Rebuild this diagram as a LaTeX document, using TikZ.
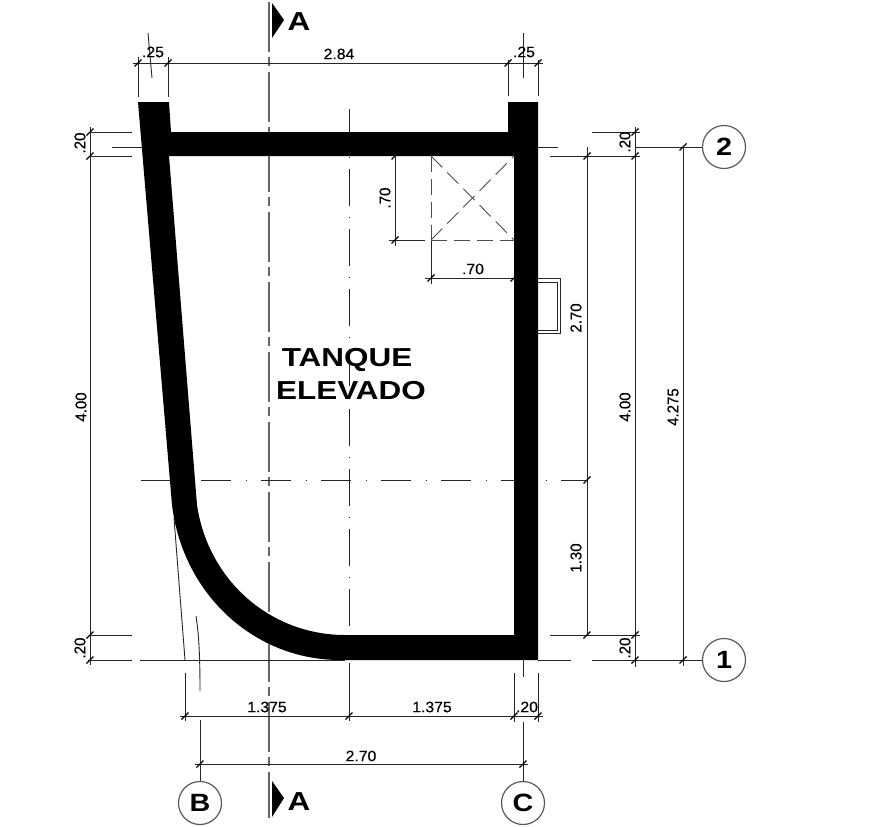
\documentclass[tikz,border=0pt]{standalone}
\usepackage{fontspec}
\setmainfont{Liberation Sans}
\newcommand{\bubtext}[1]{\scalebox{1.15}[1]{#1}}
\tikzset{
  dimline/.style={draw=black!85,line width=.9pt},
  tickmark/.style={draw=black,line width=1.2pt},
  axisline/.style={draw=black!60,line width=1.2pt,dash pattern=on 50pt off 5pt on 9pt off 6pt},
  gridline/.style={draw=black!85,line width=.9pt,dash pattern=on 37pt off 11pt on 1pt off 11pt},
  gridlineh/.style={draw=black!85,line width=.9pt,dash pattern=on 30pt off 15pt on 1pt off 14pt},
  openline/.style={draw=black!70,line width=.9pt,dash pattern=on 16pt off 7pt},
  dimtext/.style={font=\fontsize{15}{15}\selectfont\addfontfeature{FakeBold=0.5},xscale=1.05,inner sep=0pt},
  bigtext/.style={font=\fontsize{26}{26}\selectfont\bfseries,xscale=1.21,inner sep=0pt,text=black},
  bubble/.style={circle,draw=black!65,line width=1.2pt,minimum size=43pt,inner sep=0pt,
    font=\fontsize{25}{25}\selectfont\bfseries},
}
\begin{document}
\begin{tikzpicture}[x=1pt,y=-1pt]
  \useasboundingbox (0,0) rectangle (870,827);

  \path[axisline] (269,2) -- (269,818);
  \path[gridline] (349,109) -- (349,635);
  \path[gridlineh] (141,480) -- (588,480);

  \fill[black,even odd rule] (138,102) -- (169,102) -- (171,132) -- (508,132) -- (508,102)
    -- (538,102) -- (538,660) -- (340,660) .. controls (255,660) and (183,595) .. (172,505) -- cycle
    (169,156) -- (514,156) -- (514,635) -- (345,635) .. controls (270,635) and (208,580) .. (197,505) -- cycle;

  \begin{scope}[every node/.style={bubble}]
    \node (bubB) at (200,803) {\bubtext{B}};
    \node (bubC) at (523,803) {\bubtext{C}};
    \node (bub1) at (724,660) {\bubtext{1}};
    \node (bub2) at (724,147) {\bubtext{2}};
  \end{scope}

  \coordinate (tickB) at (200,720);
  \coordinate (tickC) at (523,722);
  \coordinate (tick1) at (635,660);
  \coordinate (tick2) at (635,147);

  \path[dimline] (tickB) -- (bubB);
  \path[dimline] (tickC) -- (bubC);
  \path[dimline] (tick1) -- (bub1);
  \path[dimline] (tick2) -- (bub2);

  \path[dimline] (133,63) -- (543,63);
  \path[dimline] (138,57) -- (138,97);
  \path[dimline] (168,57) -- (168,97);
  \path[dimline] (508,60) -- (508,96);
  \path[dimline] (538,60) -- (538,96);
  \path[dimline] (148,33) -- (152,78);
  \path[dimline] (523,33) -- (523,78);

  \path[dimline] (90,127) -- (90,665);
  \path[dimline] (90,132) -- (132,132);
  \path[dimline] (90,156) -- (132,156);
  \path[dimline] (112,147) -- (142,147);
  \path[dimline] (90,635) -- (132,635);
  \path[dimline] (88,660) -- (132,660);
  \path[dimline] (140,660) -- (345,660);

  \path[dimline] (174,518) -- (185,660);
  \path[dimline] (196,616) .. controls (198,630) and (200,645) .. (200,691);
  \path[dimline] (185,673) -- (185,721);
  \path[dimline] (349,663) -- (349,721);
  \path[dimline] (514,673) -- (514,722);
  \path[dimline] (538,673) -- (538,722);
  \path[dimline] (523,660) -- (523,677);
  \path[dimline] (180,716) -- (543,716);
  \path[dimline] (195,764) -- (528,764);

  \path[dimline] (587,147) -- (587,635);
  \path[dimline] (635,127) -- (635,667);
  \path[dimline] (683,147) -- (683,666);
  \path[dimline] (592,132) -- (640,132);
  \path[dimline] (538,147) -- (558,147);
  \path[dimline] (550,156) -- (640,156);
  \path[dimline] (550,635) -- (640,635);
  \path[dimline] (538,660) -- (571,660);
  \path[dimline] (592,660) -- (635,660);

  \path[dimline] (395,156) -- (395,246);
  \path[dimline] (389,240) -- (425,240);
  \path[dimline] (431,240) -- (431,284);
  \path[dimline] (425,278) -- (514,278);

  \path[openline] (431,156) -- (431,240);
  \path[openline] (431,240) -- (514,240);
  \path[openline] (431,156) -- (514,240);
  \path[openline] (431,240) -- (514,156);

  \path[dimline] (538,278) -- (560,278) -- (560,333) -- (538,333);
  \path[dimline] (538,282) -- (557,282) -- (557,330) -- (538,330);

  \foreach \p in {(138,63),(168,63),(508,63),(538,63),(90,132),(90,156),(90,635),(90,660),
    (185,716),(349,716),(514,716),(538,716),(200,764),(523,764),(587,156),(587,480),(587,635),
    (635,132),(635,156),(635,635),(635,660),(683,147),(683,660),(395,156),(395,240),(431,278),(514,278)}
    \path[tickmark] \p +(-3.5,3.5) -- +(3.5,-3.5);

  \fill[black] (272,3) -- (284,20) -- (272,38) -- cycle;
  \fill[black] (272,781) -- (284,798) -- (272,817) -- cycle;

  \begin{scope}[every node/.style={bigtext}]
    \node (secA)  at (299,22)  {A};
    \node (secB)  at (299,802) {A};
    \node (tank)  at (347,360) {TANQUE};
    \node (tank2) at (351,391) {ELEVADO};
  \end{scope}

  \begin{scope}[every node/.style={dimtext}]
    \node (top1)  at (153,52)  {.25};
    \node (top2)  at (339,54)  {2.84};
    \node (top3)  at (524,52)  {.25};
    \node (bot1)  at (267,707) {1.375};
    \node (bot2)  at (432,707) {1.375};
    \node (bot3)  at (527,707) {.20};
    \node (bot4)  at (361,756) {2.70};
    \node (open1) at (473,269) {.70};
    \node[rotate=90] (open2) at (385,198) {.70};
    \node[rotate=90] (lft1)  at (80,143)  {.20};
    \node[rotate=90] (lft2)  at (81,407)  {4.00};
    \node[rotate=90] (lft3)  at (80,648)  {.20};
    \node[rotate=90] (rgt1)  at (625,142) {.20};
    \node[rotate=90] (rgt2)  at (576,318) {2.70};
    \node[rotate=90] (rgt3)  at (576,558) {1.30};
    \node[rotate=90] (rgt4)  at (625,407) {4.00};
    \node[rotate=90] (rgt5)  at (673,407) {4.275};
    \node[rotate=90] (rgt6)  at (625,648) {.20};
  \end{scope}

\end{tikzpicture}
\end{document}
